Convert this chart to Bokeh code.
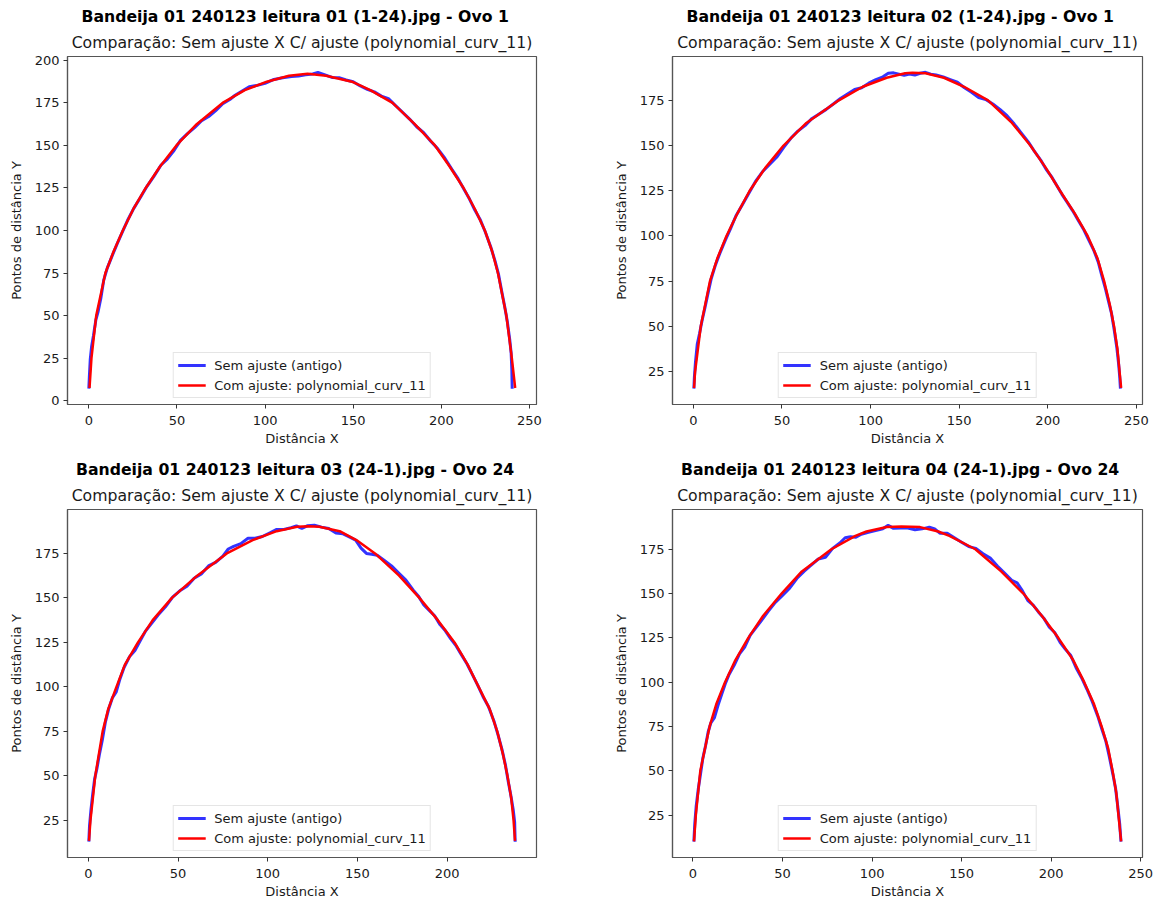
from bokeh.plotting import figure
from bokeh.models import Range1d, FixedTicker, Title, Legend, LegendItem
from bokeh.layouts import column, row
from bokeh.embed import file_html
from bokeh.resources import INLINE

# ---------------- data ----------------
titles = [
    "Bandeija 01 240123 leitura 01 (1-24).jpg - Ovo 1",
    "Bandeija 01 240123 leitura 02 (1-24).jpg - Ovo 1",
    "Bandeija 01 240123 leitura 03 (24-1).jpg - Ovo 24",
    "Bandeija 01 240123 leitura 04 (24-1).jpg - Ovo 24",
]
subtitle = "Comparação: Sem ajuste X C/ ajuste (polynomial_curv_11)"
raw_label = "Sem ajuste (antigo)"
fit_label = "Com ajuste: polynomial_curv_11"
x_label = "Distância X"
y_label = "Pontos de distância Y"

x_ticks_a = [0, 50, 100, 150, 200, 250]
x_ticks_b = [0, 50, 100, 150, 200]
y_ticks_a = [0, 25, 50, 75, 100, 125, 150, 175, 200]
y_ticks_b = [25, 50, 75, 100, 125, 150, 175]

# panel 1
p1_raw_x = [0.0, 0.3, 0.8, 1.6, 2.6, 4.0, 5.2, 6.8, 8.5, 10.5, 13.0, 16.0, 19.0, 22.0, 25.5, 29.0, 33.0, 37.0,
            41.0, 44.5, 48.0, 52.0, 56.0, 60.0, 64.0, 68.0, 72.0, 76.0, 80.0, 83.0, 87.0, 91.0, 95.0, 100.0,
            105.0, 110.0, 115.0, 119.0, 123.0, 127.0, 130.0, 134.0, 138.0, 142.0, 146.0, 150.0, 154.0, 158.0,
            162.0, 166.0, 170.0, 174.0, 178.0, 182.0, 186.0, 190.0, 194.0, 198.0, 202.0, 206.0, 209.5, 213.0,
            216.0, 219.0, 222.0, 225.0, 228.0, 230.5, 232.5, 234.5, 236.0, 237.5, 238.8, 239.6, 240.0, 240.2]
p1_raw_y = [7.0, 14.0, 24.0, 32.0, 38.0, 47.5, 52.0, 60.0, 71.0, 78.0, 84.5, 92.0, 99.0, 106.0, 113.0, 119.0,
            126.0, 132.0, 138.5, 142.0, 146.5, 153.0, 157.0, 160.5, 164.5, 167.0, 170.5, 174.5, 177.0, 179.5,
            182.0, 184.5, 185.2, 186.5, 188.8, 189.8, 190.6, 190.8, 191.5, 192.0, 193.0, 191.5, 190.0, 189.8,
            188.5, 187.5, 185.0, 183.0, 181.5, 179.0, 177.5, 173.5, 169.5, 165.5, 161.0, 157.5, 152.5, 148.0,
            142.5, 136.0, 130.5, 124.0, 118.5, 112.0, 106.5, 99.0, 90.5, 82.0, 74.0, 63.0, 55.0, 46.0, 36.0,
            28.0, 18.0, 7.0]
p1_fit_x = [0.4, 1.5, 4.2, 9.4, 14.0, 19.3, 25.2, 32.3, 40.3, 49.7, 61.2, 75.9, 88.5, 101.0, 113.6, 124.1,
            134.6, 149.3, 159.7, 172.3, 184.9, 196.4, 204.8, 212.6, 219.1, 224.7, 228.9, 232.1, 236.9, 240.0, 241.9]
p1_fit_y = [7.4, 25.0, 50.0, 75.0, 87.5, 100.0, 112.5, 125.0, 137.5, 150.0, 162.5, 175.0, 182.5, 187.5, 191.0,
            192.2, 191.0, 187.5, 182.5, 175.0, 162.5, 150.0, 137.5, 125.0, 112.5, 100.0, 87.5, 75.0, 50.0, 25.0, 7.4]

# panel 2
p2_raw_x = [0.3, 0.6, 1.2, 2.2, 3.5, 5.0, 6.5, 8.0, 10.0, 12.5, 15.0, 18.0, 21.0, 24.0, 27.5, 31.0, 35.0, 39.0,
            43.0, 47.0, 51.0, 55.0, 59.0, 63.0, 67.0, 71.0, 75.0, 79.0, 83.0, 87.0, 91.0, 95.0, 99.0, 103.0,
            107.0, 110.0, 113.0, 116.0, 119.0, 122.0, 125.0, 128.0, 131.0, 134.0, 137.0, 141.0, 145.0, 149.0,
            153.0, 157.0, 161.0, 165.0, 169.0, 173.0, 177.0, 181.0, 185.0, 189.0, 192.0, 196.0, 199.0, 202.0,
            205.0, 208.0, 211.0, 214.0, 217.0, 220.0, 223.0, 226.0, 228.5, 230.5, 232.5, 234.5, 236.0, 237.5,
            239.0, 240.0, 240.6, 241.0]
p2_raw_y = [15.5, 22.0, 30.0, 40.0, 46.0, 53.5, 60.0, 67.0, 76.0, 84.0, 90.5, 97.5, 104.0, 111.0, 117.0, 123.0,
            130.0, 135.5, 139.5, 143.5, 149.0, 154.0, 158.0, 161.0, 165.0, 167.5, 170.0, 173.0, 176.0, 178.5,
            181.0, 182.0, 184.5, 186.5, 188.0, 190.0, 190.2, 189.5, 188.8, 189.5, 189.0, 190.0, 190.5, 189.5,
            189.0, 188.0, 186.5, 185.0, 182.0, 179.5, 176.5, 175.5, 173.0, 170.0, 166.5, 162.0, 157.0, 152.0,
            147.5, 142.0, 137.0, 133.0, 128.0, 123.0, 118.5, 114.0, 109.0, 104.0, 98.0, 92.0, 85.5, 78.0, 71.0,
            63.0, 57.0, 48.0, 38.0, 29.0, 22.0, 15.5]
p2_fit_x = [0.4, 1.0, 4.2, 9.4, 13.5, 18.7, 24.9, 31.8, 40.5, 50.9, 63.8, 82.1, 95.6, 109.1, 119.5, 123.6, 131.0,
            141.4, 152.8, 166.3, 179.8, 190.2, 199.0, 206.9, 215.2, 222.5, 228.1, 231.8, 234.9, 237.4, 239.3,
            240.5, 241.4]
p2_fit_y = [15.9, 25.0, 50.0, 75.0, 87.5, 100.0, 112.5, 125.0, 137.5, 150.0, 162.5, 175.0, 182.5, 187.5, 190.0,
            190.2, 190.0, 187.5, 182.5, 175.0, 162.5, 150.0, 137.5, 125.0, 112.5, 100.0, 87.5, 75.0, 62.5, 50.0,
            37.5, 25.0, 15.9]

# panel 3
p3_raw_x = [0.3, 0.7, 1.5, 2.5, 3.5, 4.8, 6.2, 7.8, 9.5, 11.5, 13.5, 15.5, 17.5, 20.0, 23.0, 26.0, 29.0, 32.0,
            35.5, 39.0, 43.0, 47.0, 51.0, 55.0, 59.0, 63.0, 67.0, 71.0, 75.0, 78.0, 81.0, 85.0, 89.0, 93.0, 97.0,
            101.0, 105.0, 109.0, 113.0, 116.0, 119.0, 122.0, 126.0, 130.0, 134.0, 138.0, 142.0, 146.0, 149.0,
            152.0, 155.0, 158.0, 161.0, 165.0, 169.0, 173.0, 177.0, 181.0, 184.0, 187.0, 190.0, 193.0, 196.0,
            199.0, 202.0, 205.0, 208.0, 211.0, 214.0, 217.0, 220.0, 223.0, 226.0, 228.5, 230.5, 232.5, 234.0,
            235.5, 236.8, 237.6, 237.9]
p3_raw_y = [13.0, 22.0, 31.0, 40.0, 48.0, 54.0, 62.0, 70.0, 80.0, 88.0, 94.0, 97.0, 104.0, 111.0, 117.0, 120.5,
            126.0, 131.5, 136.0, 140.5, 145.0, 150.5, 154.0, 156.5, 161.0, 163.5, 168.0, 170.0, 173.5, 177.5,
            179.0, 180.5, 183.5, 183.5, 184.5, 186.5, 188.5, 188.5, 189.5, 190.5, 189.0, 190.5, 190.8, 189.8,
            189.0, 186.5, 186.0, 184.0, 182.5, 178.0, 175.0, 174.5, 174.0, 171.0, 168.0, 164.0, 160.0, 154.5,
            151.0, 146.0, 143.0, 140.0, 135.0, 131.5, 127.0, 123.0, 118.0, 113.0, 107.0, 101.0, 94.5, 89.0,
            81.0, 72.5, 65.0, 56.0, 47.0, 39.0, 31.0, 24.0, 13.0]
p3_fit_x = [0.4, 1.2, 3.9, 8.0, 11.1, 15.7, 20.4, 27.7, 35.9, 46.6, 60.7, 77.2, 91.6, 105.0, 116.4, 122.6, 128.8,
            140.1, 149.4, 159.8, 173.2, 184.5, 194.8, 204.1, 211.4, 217.5, 223.7, 227.9, 231.0, 233.6, 235.7,
            237.0, 237.8]
p3_fit_y = [13.5, 25.0, 50.0, 75.0, 87.5, 100.0, 112.5, 125.0, 137.5, 150.0, 162.5, 175.0, 182.5, 187.5, 190.0,
            190.3, 190.0, 187.5, 182.5, 175.0, 162.5, 150.0, 137.5, 125.0, 112.5, 100.0, 87.5, 75.0, 62.5, 50.0,
            37.5, 25.0, 13.5]

# panel 4
p4_raw_x = [0.5, 1.0, 1.8, 3.0, 4.2, 5.5, 7.0, 8.5, 10.0, 12.0, 14.0, 16.0, 18.0, 20.0, 23.0, 26.0, 29.0, 32.0,
            35.0, 38.0, 42.0, 46.0, 50.0, 54.0, 58.0, 62.0, 66.0, 70.0, 74.0, 78.0, 82.0, 85.0, 88.0, 91.0, 94.0,
            98.0, 102.0, 106.0, 109.0, 112.0, 116.0, 120.0, 124.0, 128.0, 132.0, 135.0, 138.0, 142.0, 146.0,
            150.0, 154.0, 158.0, 162.0, 166.0, 170.0, 174.0, 178.0, 181.0, 184.0, 187.0, 190.0, 193.0, 196.0,
            199.0, 202.0, 205.0, 208.0, 211.0, 214.0, 217.0, 220.0, 223.0, 226.0, 228.5, 230.5, 232.5, 234.5,
            236.0, 237.2, 238.3, 239.0]
p4_raw_y = [10.0, 20.0, 30.0, 40.0, 48.0, 57.0, 64.0, 72.0, 77.0, 80.0, 87.0, 93.0, 99.0, 104.0, 109.5, 116.0,
            120.0, 126.5, 130.5, 134.5, 140.0, 145.0, 149.0, 153.0, 158.5, 162.5, 166.0, 169.5, 170.5, 175.5,
            178.5, 181.5, 182.0, 181.8, 183.5, 184.5, 185.5, 186.5, 188.5, 186.8, 187.0, 187.0, 186.0, 186.5,
            187.5, 186.5, 184.0, 184.0, 181.5, 179.0, 176.5, 175.5, 172.5, 170.0, 165.5, 161.5, 157.5, 156.0,
            151.5, 146.0, 143.5, 139.5, 136.0, 131.0, 128.0, 122.5, 118.5, 115.0, 108.0, 102.5, 96.0, 89.0,
            81.0, 73.0, 67.0, 58.0, 48.0, 40.0, 30.0, 20.0, 10.0]
p4_fit_x = [0.6, 1.6, 4.1, 9.3, 13.0, 17.9, 23.7, 30.9, 39.2, 49.5, 60.8, 77.3, 90.7, 96.9, 108.2, 116.4, 126.8,
            137.0, 143.2, 157.7, 172.1, 184.5, 194.8, 204.0, 212.3, 218.5, 224.0, 228.2, 231.9, 234.3, 236.4,
            237.6, 239.1]
p4_fit_y = [10.2, 25.0, 50.0, 75.0, 87.5, 100.0, 112.5, 125.0, 137.5, 150.0, 162.5, 175.0, 182.5, 185.0, 187.5,
            187.8, 187.5, 185.0, 182.5, 175.0, 162.5, 150.0, 137.5, 125.0, 112.5, 100.0, 87.5, 75.0, 62.5, 50.0,
            37.5, 25.0, 10.2]

# ---------------- styling ----------------
FONT = "DejaVu Sans"
TXT = "#1a1a1a"
SPINE = "#555555"


def margin_range(*arrs):
    lo = min(min(a) for a in arrs)
    hi = max(max(a) for a in arrs)
    d = (hi - lo) * 0.05
    return Range1d(lo - d, hi + d)


def make_panel(title, rx, ry, fx, fy, xt, yt, bl, bt, br, bb, fw, title_off):
    p = figure(output_backend="svg", toolbar_location=None,
               frame_width=fw, frame_height=348,
               min_border_left=bl, min_border_top=bt, min_border_right=br, min_border_bottom=bb,
               x_range=margin_range(rx, fx), y_range=margin_range(ry, fy))
    p.background_fill_color = "white"
    p.border_fill_color = "white"
    p.outline_line_color = SPINE
    p.outline_line_width = 1.2
    p.xgrid.visible = False
    p.ygrid.visible = False

    r_raw = p.line(rx, ry, line_color="blue", line_alpha=0.8, line_width=3.0)
    r_fit = p.line(fx, fy, line_color="red", line_width=2.5)

    p.xaxis.ticker = FixedTicker(ticks=xt)
    p.yaxis.ticker = FixedTicker(ticks=yt)
    for ax in (p.xaxis, p.yaxis):
        ax.axis_line_color = SPINE
        ax.axis_line_width = 1.2
        ax.major_tick_line_color = "#333333"
        ax.major_tick_out = 4
        ax.major_tick_in = 0
        ax.minor_tick_out = 0
        ax.minor_tick_in = 0
        ax.major_label_text_font = FONT
        ax.major_label_text_font_size = "13px"
        ax.major_label_text_color = TXT
        ax.axis_label_text_font = FONT
        ax.axis_label_text_font_size = "13px"
        ax.axis_label_text_font_style = "normal"
        ax.axis_label_text_color = TXT
    p.xaxis.major_label_standoff = 7
    p.yaxis.major_label_standoff = 4
    p.xaxis.axis_label_standoff = 3
    p.yaxis.axis_label_standoff = 8
    p.xaxis.axis_label = x_label
    p.yaxis.axis_label = y_label

    p.add_layout(Title(text=subtitle, align="center", text_font=FONT, text_font_size="15.7px",
                       text_font_style="normal", text_color=TXT, standoff=10), "above")
    p.add_layout(Title(text=title, align="left", offset=title_off, text_font=FONT, text_font_size="15.7px",
                       text_font_style="bold", text_color="black", standoff=0), "above")

    legend = Legend(items=[LegendItem(label=raw_label, renderers=[r_raw]),
                           LegendItem(label=fit_label, renderers=[r_fit])],
                    location="bottom_center", margin=6, padding=4, spacing=4,
                    glyph_width=28, glyph_height=16, label_height=16, label_standoff=9,
                    label_text_font=FONT, label_text_font_size="13px", label_text_color=TXT,
                    border_line_color="#cccccc", border_line_width=1,
                    background_fill_color="white", background_fill_alpha=0.8)
    p.add_layout(legend)
    return p


p1 = make_panel(titles[0], p1_raw_x, p1_raw_y, p1_fit_x, p1_fit_y, x_ticks_a, y_ticks_a, 67, 56, 64, 46, 469, 14)
p2 = make_panel(titles[1], p2_raw_x, p2_raw_y, p2_fit_x, p2_fit_y, x_ticks_a, y_ticks_b, 72, 56, 15, 46, 470, 14)
p3 = make_panel(titles[2], p3_raw_x, p3_raw_y, p3_fit_x, p3_fit_y, x_ticks_b, y_ticks_b, 67, 59, 64, 43, 469, 8.5)
p4 = make_panel(titles[3], p4_raw_x, p4_raw_y, p4_fit_x, p4_fit_y, x_ticks_a, y_ticks_b, 72, 59, 15, 43, 470, 8.5)

layout = column(row(p1, p2), row(p3, p4))
open("out.html", "w").write(file_html(layout, INLINE))
